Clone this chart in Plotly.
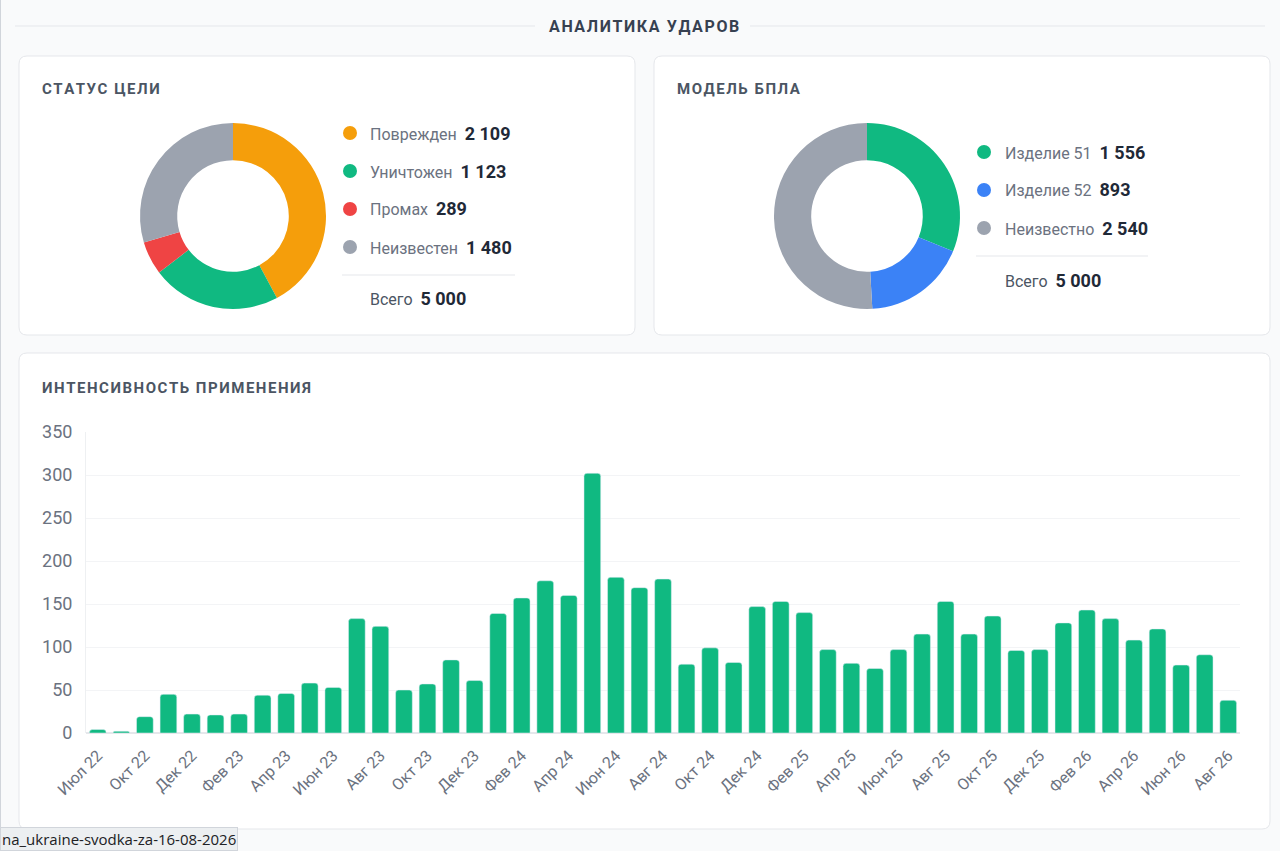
import plotly.graph_objects as go

W, H = 1280, 851

# --- data ---
status_labels = ["Поврежден", "Уничтожен", "Промах", "Неизвестен"]
status_values = [2109, 1123, 289, 1480]
status_colors = ["#f59e0b", "#10b981", "#ef4444", "#9ca3af"]
status_total = 5000

model_labels = ["Изделие 51", "Изделие 52", "Неизвестно"]
model_values = [1556, 893, 2540]
model_colors = ["#10b981", "#3b82f6", "#9ca3af"]
model_total = 5000

months = ["Июл 22", "Авг 22", "Окт 22", "Ноя 22", "Дек 22",
          "Янв 23", "Фев 23", "Мар 23", "Апр 23", "Май 23", "Июн 23",
          "Июл 23", "Авг 23", "Сен 23", "Окт 23", "Ноя 23", "Дек 23",
          "Янв 24", "Фев 24", "Мар 24", "Апр 24", "Май 24", "Июн 24",
          "Июл 24", "Авг 24", "Сен 24", "Окт 24", "Ноя 24", "Дек 24",
          "Янв 25", "Фев 25", "Мар 25", "Апр 25", "Май 25", "Июн 25",
          "Июл 25", "Авг 25", "Сен 25", "Окт 25", "Ноя 25", "Дек 25",
          "Янв 26", "Фев 26", "Мар 26", "Апр 26", "Май 26", "Июн 26",
          "Июл 26", "Авг 26"]
strikes = [4, 2, 19, 45, 22, 21, 22, 44, 46, 58, 53,
           133, 124, 50, 57, 85, 61,
           139, 157, 177, 160, 302, 181,
           169, 179, 80, 99, 82, 147,
           153, 140, 97, 81, 75, 97,
           115, 153, 115, 136, 96, 97,
           128, 143, 133, 108, 121, 79,
           91, 38]

FONT = "Roboto"
GREY = "#6b7280"
DARK = "#1f2937"


def fx(x):
    return x / W


def fy(y):
    return 1 - y / H


def fmt(n):
    return f"{n:,}".replace(",", "\u00a0")


def tracked(s):
    # poor man's letter-spacing for the headings
    return "\u200a".join(s)


def card(x0, y0, x1, y1, r=8):
    p = (f"M{fx(x0 + r)},{fy(y0)} L{fx(x1 - r)},{fy(y0)} "
         f"Q{fx(x1)},{fy(y0)} {fx(x1)},{fy(y0 + r)} "
         f"L{fx(x1)},{fy(y1 - r)} Q{fx(x1)},{fy(y1)} {fx(x1 - r)},{fy(y1)} "
         f"L{fx(x0 + r)},{fy(y1)} Q{fx(x0)},{fy(y1)} {fx(x0)},{fy(y1 - r)} "
         f"L{fx(x0)},{fy(y0 + r)} Q{fx(x0)},{fy(y0)} {fx(x0 + r)},{fy(y0)} Z")
    return dict(type="path", path=p, xref="paper", yref="paper", layer="below",
                fillcolor="white", line=dict(color="#e5e7eb", width=1))


fig = go.Figure()

fig.add_trace(go.Pie(labels=status_labels, values=status_values, hole=0.6,
                     sort=False, direction="clockwise", rotation=0,
                     marker=dict(colors=status_colors, line=dict(width=0)),
                     textinfo="none", showlegend=False,
                     domain=dict(x=[fx(140), fx(326)], y=[fy(309), fy(123)])))
fig.add_trace(go.Pie(labels=model_labels, values=model_values, hole=0.6,
                     sort=False, direction="clockwise", rotation=0,
                     marker=dict(colors=model_colors, line=dict(width=0)),
                     textinfo="none", showlegend=False,
                     domain=dict(x=[fx(774), fx(960)], y=[fy(309), fy(123)])))

fig.add_trace(go.Bar(x=months, y=strikes, marker=dict(color="#10b981"),
                     showlegend=False, hovertemplate="%{x}: %{y}<extra></extra>"))

shapes = [
    card(19, 56, 635, 335),
    card(654, 56, 1270, 335),
    card(19, 353, 1270, 829),
    dict(type="line", xref="paper", yref="paper", x0=fx(15), x1=fx(535),
         y0=fy(26), y1=fy(26), line=dict(color="#e5e7eb", width=1)),
    dict(type="line", xref="paper", yref="paper", x0=fx(750), x1=fx(1265),
         y0=fy(26), y1=fy(26), line=dict(color="#e5e7eb", width=1)),
    dict(type="line", xref="paper", yref="paper", x0=fx(0.5), x1=fx(0.5),
         y0=fy(0), y1=fy(832), line=dict(color="#d1d5db", width=1)),
]
annotations = []


def add_text(x, y, text, size=16, color=GREY, anchor="left", bold=False):
    annotations.append(dict(x=fx(x), y=fy(y), xref="paper", yref="paper",
                            text=f"<b>{text}</b>" if bold else text,
                            showarrow=False, xanchor=anchor, yanchor="middle",
                            font=dict(family=FONT, size=size, color=color)))


def legend_block(labels, values, colors, total, dot_x, text_x, y0, sep_x1):
    for i, (lab, val, col) in enumerate(zip(labels, values, colors)):
        y = y0 + i * 38
        shapes.append(dict(type="circle", xref="paper", yref="paper",
                           x0=fx(dot_x - 7), x1=fx(dot_x + 7),
                           y0=fy(y + 7), y1=fy(y - 7),
                           fillcolor=col, line=dict(width=0)))
        add_text(text_x, y,
                 f"{lab}\u00a0\u00a0<span style='color:{DARK};font-size:18px'><b>{fmt(val)}</b></span>",
                 size=16)
    ysep = y0 + (len(labels) - 1) * 38 + 28
    shapes.append(dict(type="line", xref="paper", yref="paper",
                       x0=fx(dot_x - 8), x1=fx(sep_x1), y0=fy(ysep), y1=fy(ysep),
                       line=dict(color="#e5e7eb", width=1)))
    add_text(text_x, ysep + 24,
             f"<span style='color:#4b5563'>Всего</span>\u00a0\u00a0"
             f"<span style='color:{DARK};font-size:18px'><b>{fmt(total)}</b></span>",
             size=16)


legend_block(status_labels, status_values, status_colors, status_total, 350, 368, 133, 515)
legend_block(model_labels, model_values, model_colors, model_total, 984, 1003, 152, 1148)

add_text(644, 27, tracked("АНАЛИТИКА УДАРОВ"), size=16, color="#374151", anchor="center", bold=True)
add_text(40, 89, tracked("СТАТУС ЦЕЛИ"), size=15, color="#4b5563", bold=True)
add_text(675, 89, tracked("МОДЕЛЬ БПЛА"), size=15, color="#4b5563", bold=True)
add_text(40, 388, tracked("ИНТЕНСИВНОСТЬ ПРИМЕНЕНИЯ"), size=15, color="#4b5563", bold=True)

annotations.append(dict(x=0, y=0, xref="paper", yref="paper", xanchor="left", yanchor="bottom",
                        text="na_ukraine-svodka-za-16-08-2026", showarrow=False,
                        bgcolor="#eceff1", bordercolor="#d1d5db", borderwidth=1, borderpad=1,
                        font=dict(family="Open Sans", size=15, color="#202124")))

fig.update_layout(
    width=W, height=H,
    margin=dict(l=0, r=0, t=0, b=0, pad=0),
    paper_bgcolor="#f9fafb",
    plot_bgcolor="rgba(0,0,0,0)",
    font=dict(family=FONT, color=GREY),
    bargap=0.29,
    barcornerradius=3,
    shapes=shapes,
    annotations=annotations,
    xaxis=dict(domain=[fx(86), fx(1240)], type="category", automargin=False,
               tickmode="array", tickvals=months[::2], ticktext=months[::2],
               tickangle=-45, tickfont=dict(family=FONT, size=16, color=GREY),
               ticks="outside", ticklen=6, tickcolor="rgba(0,0,0,0)",
               showgrid=False, showline=False, fixedrange=True),
    yaxis=dict(domain=[fy(733), fy(432)], range=[0, 350], dtick=50, automargin=False,
               tickfont=dict(family=FONT, size=18, color=GREY),
               ticks="outside", ticklen=9, tickcolor="rgba(0,0,0,0)",
               gridcolor="#f3f4f6", zeroline=True, zerolinecolor="#e5e7eb",
               showline=True, linecolor="#eef0f2", fixedrange=True),
)

# the page's default body margin would push the 1280x851 figure off by 8px
fig.write_html("out.html", config={"displayModeBar": False},
               post_script="document.body.style.margin='0';")
